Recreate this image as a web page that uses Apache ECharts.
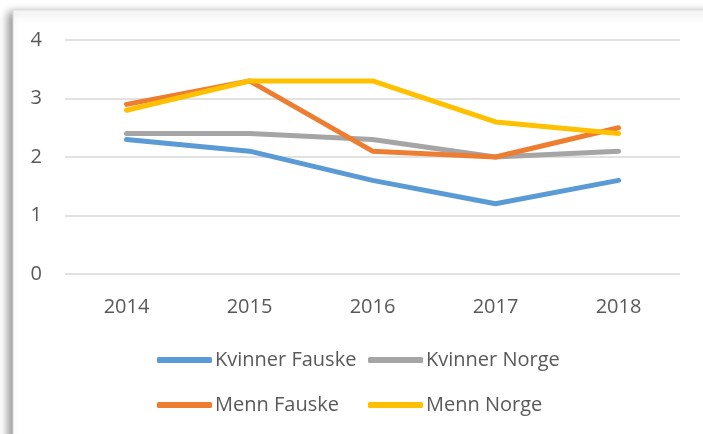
<!DOCTYPE html>
<html>
<head>
<meta charset="utf-8">
<script src="https://cdn.jsdelivr.net/npm/echarts@6/dist/echarts.min.js"></script>
<style>
  html, body { margin: 0; padding: 0; background: #ffffff; }
  #chart { width: 703px; height: 434px; }
</style>
</head>
<body>
<div id="chart"></div>
<script>
// Years on the category axis
const years = ['2014', '2015', '2016', '2017', '2018'];

// Series values
const kvinnerFauske = [2.3, 2.1, 1.6, 1.2, 1.6];
const kvinnerNorge  = [2.4, 2.4, 2.3, 2.0, 2.1];
const mennFauske    = [2.9, 3.3, 2.1, 2.0, 2.5];
const mennNorge     = [2.8, 3.3, 3.3, 2.6, 2.4];

const seriesNames  = ['Kvinner Fauske', 'Kvinner Norge', 'Menn Fauske', 'Menn Norge'];
const seriesValues = [kvinnerFauske, kvinnerNorge, mennFauske, mennNorge];
const colors = ['#5B9BD5', '#A5A5A5', '#ED7D31', '#FFC000'];

const font = '"Open Sans", "Liberation Sans", sans-serif';
const textColor = '#595959';

const chart = echarts.init(document.getElementById('chart'), null, { renderer: 'canvas' });

const legendCommon = {
  orient: 'vertical',
  top: 343,
  padding: 5,
  itemWidth: 55,
  itemHeight: 6,
  itemGap: 21,
  icon: 'roundRect',
  textStyle: { color: textColor, fontSize: 20, fontFamily: font, lineHeight: 24, padding: [0, 0, 0, -2] }
};

chart.setOption({
  animation: false,
  color: colors,
  graphic: [{
    type: 'rect',
    z: -10,
    shape: { x: 13, y: 10, width: 720, height: 460 },
    style: {
      fill: '#ffffff',
      stroke: '#d9d9d9',
      lineWidth: 1,
      shadowBlur: 9,
      shadowColor: 'rgba(0,0,0,0.45)',
      shadowOffsetX: -4,
      shadowOffsetY: 3
    }
  }],
  grid: { left: 65, right: 23, top: 40, bottom: 160, containLabel: false },
  legend: [
    Object.assign({ left: 152, data: ['Kvinner Fauske', 'Menn Fauske'] }, legendCommon),
    Object.assign({ left: 363, data: ['Kvinner Norge', 'Menn Norge'] }, legendCommon)
  ],
  xAxis: {
    type: 'category',
    data: years,
    boundaryGap: true,
    axisLine: { show: false },
    axisTick: { show: false },
    axisLabel: { color: textColor, fontSize: 20, fontFamily: font, margin: 23 }
  },
  yAxis: {
    type: 'value',
    min: 0,
    max: 4,
    interval: 1,
    axisLine: { show: false },
    axisTick: { show: false },
    axisLabel: { color: textColor, fontSize: 20, fontFamily: font, margin: 23 },
    splitLine: { lineStyle: { color: '#d9d9d9', width: 1.5 } }
  },
  series: seriesNames.map((name, i) => ({
    name: name,
    type: 'line',
    data: seriesValues[i],
    symbol: 'none',
    lineStyle: { width: 5, color: colors[i], cap: 'round', join: 'round' },
    itemStyle: { color: colors[i] }
  }))
});
</script>
</body>
</html>
